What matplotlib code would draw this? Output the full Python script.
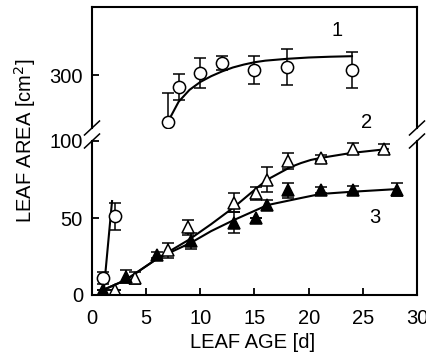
import numpy as np
import matplotlib
matplotlib.use('Agg')
import matplotlib.pyplot as plt

plt.rcParams['font.family'] = ['Liberation Sans', 'DejaVu Sans']

# series 1 (open circles), lower and upper part of the broken axis
x1_low = [1.0, 2.1]
y1_low = [11, 51]
e1_low = [4, 9]
x1_up = [7, 8, 10, 12, 15, 18, 24]
y1_up = [123, 256, 309, 347, 320, 332, 320]
e1_up = [110, 50, 57, 28, 53, 68, 68]

# series 2 (open triangles)
x2 = [2.1, 4.0, 7.0, 8.9, 13.1, 15.1, 16.2, 18.1, 21.1, 24.1, 27.0]
y2 = [3, 11, 29, 44, 60, 66, 75, 87, 89, 95, 95]
e2 = [0, 4, 5, 5, 6, 4, 8, 5, 2, 3.5, 3]

# series 3 (filled triangles)
x3 = [1.0, 3.1, 6.0, 9.1, 13.1, 15.1, 16.2, 18.1, 21.1, 24.1, 28.2]
y3 = [3, 12, 26, 35, 47, 50, 58.5, 68, 68, 68.5, 68.5]
e3 = [0, 4, 2, 5, 7, 0, 3, 5, 2, 2, 4]

# fitted curves
c1_low_x = [1.1, 1.85]
c1_low_y = [4, 61]
c1_up_x = [7, 8, 9, 10, 11, 12, 13, 14, 15, 16, 18, 20, 22, 24]
c1_up_y = [123, 200, 245, 275, 297, 315, 330, 341, 350, 356, 363, 368, 371, 373]
c2_x = [1, 3.1, 6.1, 8.9, 11, 13.1, 15.3, 16.2, 18.3, 19.3, 20.2, 21.1, 23.9, 27.3]
c2_y = [3.2, 9.7, 24, 35.7, 46, 57, 70, 75, 83, 85.7, 87.7, 89, 92.2, 94.8]
c3_x = [1, 3.1, 6.1, 9.1, 11, 13.1, 16.2, 19.3, 21.1, 23.9, 28.2]
c3_y = [3.2, 9.7, 24, 33.8, 41.5, 48.7, 58.4, 63, 65.6, 67, 68.8]

W, H = 427, 363
fs = 14.5
fig = plt.figure(figsize=(W / 100, H / 100), dpi=100)
ax = fig.add_axes([92 / W, (H - 295) / H, 325 / W, 154 / H])
axu = fig.add_axes([92 / W, (H - 128) / H, 325 / W, 121 / H])

lw = 1.5
ms = 8.8
eb = dict(ecolor='black', elinewidth=1.1, capsize=4.5, capthick=1.1, linestyle='none')

# lower panel
ax.plot(c1_low_x, c1_low_y, color='black', lw=lw)
ax.plot(c2_x, c2_y, color='black', lw=lw)
ax.plot(c3_x, c3_y, color='black', lw=lw)
ax.errorbar(x1_low, y1_low, yerr=e1_low, marker='o', ms=ms, mfc='white', mec='black', mew=1.1, **eb)
ax.errorbar(x2, y2, yerr=e2, marker='^', ms=ms + 0.5, mfc='white', mec='black', mew=1.1, **eb)
ax.errorbar(x3, y3, yerr=e3, marker='^', ms=ms + 0.5, mfc='black', mec='black', mew=1.1, **eb)

ax.set_xlim(0, 30)
ax.set_ylim(0, 100)
ax.set_xticks([0, 5, 10, 15, 20, 25, 30])
ax.set_yticks([0, 50, 100])
ax.spines['top'].set_visible(False)
for s in ax.spines.values():
    s.set_linewidth(1.5)
ax.tick_params(direction='in', length=5, width=1.3, labelsize=fs, top=False, right=False)
ax.tick_params(axis='x', pad=10)
ax.tick_params(axis='y', pad=6.5)

# upper panel
axu.plot(c1_up_x, c1_up_y, color='black', lw=lw)
axu.errorbar(x1_up, y1_up, yerr=e1_up, marker='o', ms=ms, mfc='white', mec='black', mew=1.1, **eb)
axu.set_xlim(0, 30)
axu.set_ylim(100, 560)
axu.set_yticks([300])
axu.set_xticks([])
axu.spines['bottom'].set_visible(False)
for s in axu.spines.values():
    s.set_linewidth(1.5)
axu.tick_params(direction='in', length=5, width=1.3, labelsize=fs, right=False, pad=6.5)

# break marks
dx, dy = 7.5 / 325, 7.0 / 154
for xc in (0, 1):
    ax.plot([xc - dx, xc + dx], [1 - dy, 1 + dy], transform=ax.transAxes,
            color='black', lw=1.1, clip_on=False)
dyu = 7.0 / 121
for xc in (0, 1):
    axu.plot([xc - dx, xc + dx], [-dyu, dyu], transform=axu.transAxes,
             color='black', lw=1.1, clip_on=False)

# curve labels
fig.text(337 / W, 1 - 30 / H, '1', fontsize=fs, ha='center', va='center')
fig.text(367 / W, 1 - 122 / H, '2', fontsize=fs, ha='center', va='center')
fig.text(375 / W, 1 - 217 / H, '3', fontsize=fs, ha='center', va='center')

fig.text(25 / W, 1 - 141 / H, 'LEAF AREA [cm$^2$]', fontsize=fs, rotation=90,
         ha='center', va='center')
fig.text(253 / W, 1 - 342 / H, 'LEAF AGE [d]', fontsize=fs, ha='center', va='center')

fig.savefig('out.png', dpi=100)
